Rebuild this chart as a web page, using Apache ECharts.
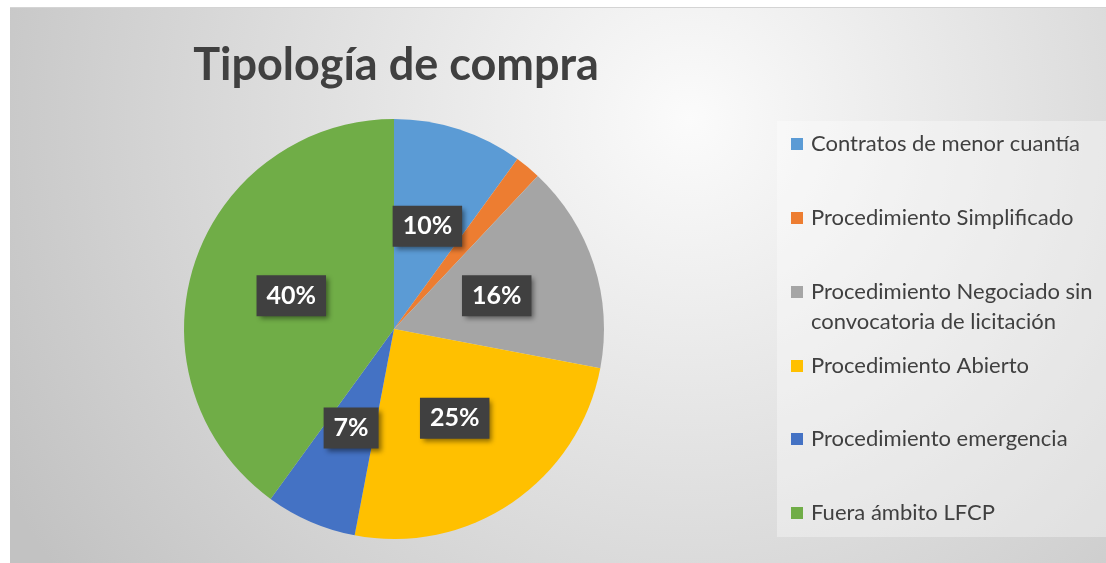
<!DOCTYPE html>
<html>
<head>
<meta charset="utf-8">
<script src="https://cdn.jsdelivr.net/npm/echarts@6/dist/echarts.min.js"></script>
<style>
  html, body { margin: 0; padding: 0; background: #fff; }
  #chart { position: absolute; left: 10px; top: 7px; width: 1096px; height: 556px; border-top: 1px solid #d4d4d4; }
</style>
</head>
<body>
<div id="chart"></div>
<script>
// datos
const categorias = [
  'Contratos de menor cuantía',
  'Procedimiento Simplificado',
  'Procedimiento Negociado sin convocatoria de licitación',
  'Procedimiento Abierto',
  'Procedimiento emergencia',
  'Fuera ámbito LFCP'
]
const valores = [10, 2, 16, 25, 7, 40]
const colores = ['#5B9BD5', '#ED7D31', '#A5A5A5', '#FFC000', '#4472C4', '#70AD47']
// centro vertical de cada entrada de la leyenda (px)
const leyendaY = [143, 217, 291, 365, 438, 512]

const chart = echarts.init(document.getElementById('chart'))

// una leyenda por entrada, para respetar el espaciado uniforme de Excel
const legends = categorias.map((name, i) => {
  const dosLineas = i === 2
  return {
    orient: 'vertical',
    left: 781,
    top: leyendaY[i] - 7 - (dosLineas ? 45 : 15),
    padding: 0,
    data: [name],
    icon: 'rect',
    itemWidth: 12,
    itemHeight: 12,
    itemGap: 0,
    selectedMode: false,
    formatter: dosLineas ? '\nProcedimiento Negociado sin\nconvocatoria de licitación' : '{name}',
    textStyle: {
      fontFamily: 'Lato',
      fontSize: 22,
      lineHeight: 30,
      color: '#404040',
      padding: [0, 0, 0, 3]
    }
  }
})

const option = {
  backgroundColor: {
    type: 'radial',
    x: 0.62,
    y: 0.2,
    r: 1.4,
    colorStops: [
      { offset: 0, color: '#fbfbfb' },
      { offset: 1, color: '#c2c2c2' }
    ]
  },
  color: colores,
  title: {
    text: 'Tipología de compra',
    left: 381,
    top: 30,
    textAlign: 'center',
    textStyle: {
      fontFamily: 'Lato',
      fontWeight: 'bold',
      fontSize: 45,
      color: '#404040'
    }
  },
  graphic: [
    {
      type: 'rect',
      left: 767,
      top: 113,
      shape: { width: 340, height: 416 },
      style: { fill: 'rgba(255,255,255,0.35)' },
      z: -1
    }
  ],
  legend: legends,
  series: [
    {
      type: 'pie',
      center: [384, 321],
      radius: [0, 210],
      startAngle: 90,
      clockwise: true,
      animation: false,
      itemStyle: { borderWidth: 0 },
      label: {
        position: 'inside',
        formatter: '{d}%',
        fontFamily: 'Lato',
        fontWeight: 'bold',
        fontSize: 25,
        lineHeight: 25,
        color: '#ffffff',
        backgroundColor: '#404040',
        padding: [8, 10],
        shadowColor: 'rgba(0,0,0,0.45)',
        shadowBlur: 5,
        shadowOffsetX: 3,
        shadowOffsetY: 3
      },
      labelLine: { show: false },
      emphasis: { disabled: true },
      data: categorias.map((name, i) => ({ name, value: valores[i] }))
    }
  ]
}

chart.setOption(option)
</script>
</body>
</html>
